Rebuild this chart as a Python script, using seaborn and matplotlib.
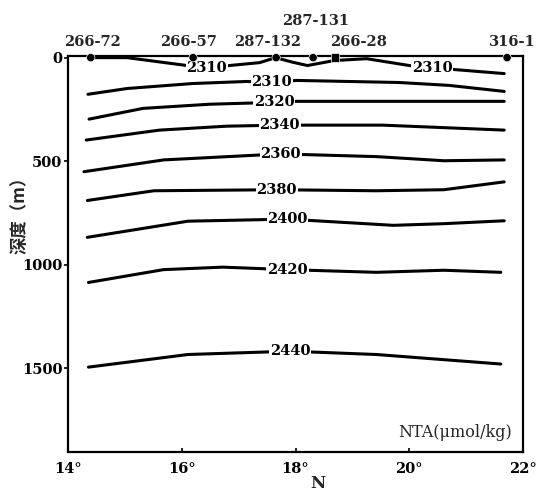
import numpy as np
import pandas as pd
import matplotlib
matplotlib.use("Agg")
import matplotlib.pyplot as plt
import seaborn as sns

# stations along the section (latitude, deg N)
station_names = ["266-72", "266-57", "287-132", "287-131", "266-28", "316-1"]
station_lat = [14.40, 16.20, 17.66, 18.31, 18.69, 21.72]

# NTA isolines (umol/kg): latitude / depth (m)
levels = [2310, 2310, 2320, 2340, 2360, 2380, 2400, 2420, 2440]
iso_lat = [
    [14.40, 15.04, 16.09, 16.44, 16.84, 17.37, 17.65, 17.95, 18.21, 18.68, 19.25, 20.00, 20.40, 20.82, 21.67],
    [14.35, 15.04, 16.19, 17.14, 17.58, 18.02, 19.82, 20.70, 21.67],
    [14.37, 15.32, 16.49, 17.63, 18.02, 19.82, 21.67],
    [14.32, 15.61, 16.79, 17.72, 18.19, 19.53, 21.67],
    [14.28, 15.68, 17.74, 19.42, 20.61, 21.67],
    [14.34, 15.51, 17.67, 19.42, 20.61, 21.67],
    [14.34, 16.11, 17.86, 19.72, 20.61, 21.67],
    [14.36, 15.68, 16.72, 17.86, 19.42, 20.61, 21.61],
    [14.36, 16.11, 17.91, 19.42, 21.61],
]
iso_depth = [
    [0, 0, 38, 50, 38, 24, 0, 22, 38, 14, 5, 38, 50, 58, 77],
    [177, 149, 125, 115, 120, 110, 120, 134, 163],
    [297, 245, 225, 216, 211, 211, 211],
    [398, 350, 331, 326, 326, 326, 350],
    [551, 494, 465, 478, 498, 494],
    [690, 643, 638, 643, 638, 600],
    [868, 790, 780, 810, 802, 788],
    [1086, 1024, 1012, 1024, 1037, 1027, 1037],
    [1495, 1434, 1418, 1434, 1480],
]
label_lat = [[16.44, 20.40], [17.58], [17.63], [17.72], [17.74], [17.67], [17.86], [17.86], [17.91]]

xticks = [14, 16, 18, 20, 22]
yticks = [0, 500, 1000, 1500]

sns.set_theme(style="white")
plt.rcParams["font.family"] = ["DejaVu Serif", "Noto Sans CJK SC"]
plt.rcParams["font.weight"] = "bold"

fig = plt.figure(figsize=(5.37, 4.93), dpi=100)
ax = fig.add_axes([68 / 537, 1 - 452 / 493, 455 / 537, 396 / 493])

for i, lev in enumerate(levels):
    df = pd.DataFrame({"lat": iso_lat[i], "depth": iso_depth[i]})
    sns.lineplot(data=df, x="lat", y="depth", sort=False, color="black",
                 linewidth=2.2, ax=ax)
    for lx in label_lat[i]:
        ly = np.interp(lx, iso_lat[i], iso_depth[i])
        ax.text(lx, ly, str(lev), ha="center", va="center", fontsize=10.5,
                fontweight="bold", color="black", zorder=5,
                bbox=dict(boxstyle="square,pad=0.05", fc="white", ec="none"))

st = pd.DataFrame({"lat": station_lat, "depth": [0] * len(station_lat),
                   "name": station_names})
mk = {n: ("s" if n == "266-28" else "o") for n in station_names}
sns.scatterplot(data=st, x="lat", y="depth", style="name", markers=mk,
                color="black", s=36, legend=False, ax=ax, clip_on=False,
                zorder=6)

label_off = {"266-72": (2, 16), "266-57": (-5, 16), "287-132": (-9, 16),
             "287-131": (2, 37), "266-28": (24, 16), "316-1": (5, 16)}
for n, la in zip(station_names, station_lat):
    ax.annotate(n, (la, 0), xytext=label_off[n], textcoords="offset pixels",
                ha="center", va="center", fontsize=10.5, fontweight="bold",
                annotation_clip=False)

ax.set_xlim(14, 22)
ax.set_ylim(1905, -8)
ax.set_xticks(xticks)
ax.set_xticklabels([f"{t}°" for t in xticks])
ax.set_yticks(yticks)
ax.set_yticklabels([str(t) for t in yticks])
ax.tick_params(axis="x", direction="in", length=3, width=1.2, pad=7,
               labelsize=10.5, colors="black")
ax.tick_params(axis="y", direction="out", length=3, width=1.2, pad=1,
               labelsize=10.5, colors="black")
ax.tick_params(left=True, bottom=True)
for s in ax.spines.values():
    s.set_color("black")
    s.set_linewidth(1.6)

ax.set_xlabel("N", fontsize=12, fontweight="bold", labelpad=0)
ax.xaxis.set_label_coords((318 - 68) / 455, -0.057)
ax.set_ylabel("深度（m）", fontsize=12.5, fontweight="bold",
              family=["Noto Sans CJK SC", "DejaVu Sans"])
ax.yaxis.set_label_coords(-(68 - 29) / 455, (452 - 211) / 396)

ax.text(0.975, 0.05, "NTA(μmol/kg)", transform=ax.transAxes, ha="right",
        va="center", fontsize=11.5, fontweight="normal")

fig.savefig("out.png", dpi=100)
